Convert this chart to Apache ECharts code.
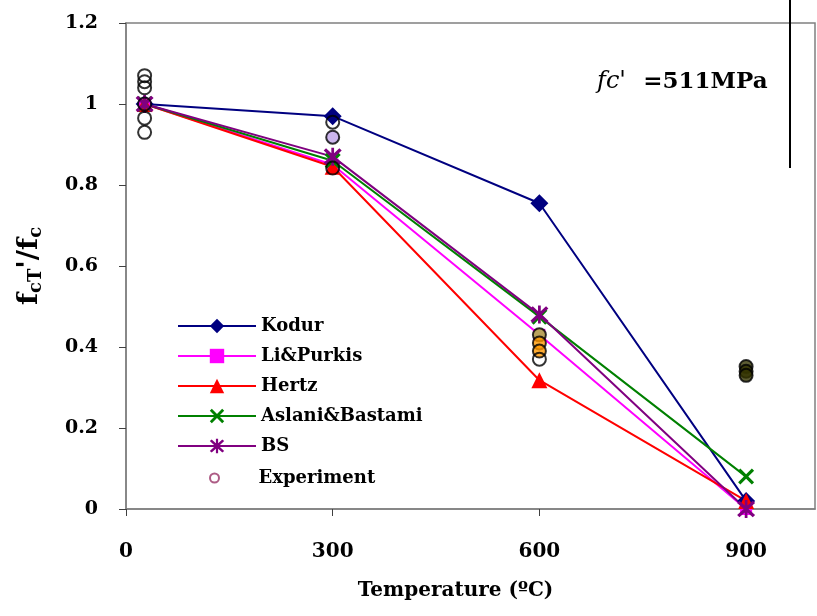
<!DOCTYPE html>
<html>
<head>
<meta charset="utf-8">
<script src="https://cdn.jsdelivr.net/npm/echarts@6/dist/echarts.min.js"></script>
<style>html,body{margin:0;padding:0;background:#fff;}#c{width:817px;height:616px;}</style>
</head>
<body>
<div id="c"></div>
<script>
// ---- data ----
const temps = [27, 300, 600, 900];
const kodur = [1.0, 0.97, 0.755, 0.02];
const liPurkis = [1.0, 0.85, 0.43, 0.0];
const hertz = [1.0, 0.845, 0.318, 0.02];
const aslani = [1.0, 0.86, 0.475, 0.08];
const bs = [1.0, 0.87, 0.48, 0.0];
const expTemp = [27, 27, 27, 27, 27, 27, 300, 300, 300, 600, 600, 600, 600, 900, 900, 900];
const expRatio = [1.07, 1.055, 1.04, 1.0, 0.965, 0.93, 0.955, 0.918, 0.842, 0.43, 0.41, 0.39, 0.37, 0.352, 0.34, 0.33];
const xTicks = [0, 300, 600, 900];
const yTicks = [0, 0.2, 0.4, 0.6, 0.8, 1, 1.2];
// styles (fill colours of experiment markers)
const expFill = ['rgba(0,0,0,0)','rgba(0,0,0,0)','rgba(0,0,0,0)','rgba(0,0,0,0)','rgba(0,0,0,0)','rgba(0,0,0,0)',
  'rgba(0,0,0,0)','#bfa3e8','rgba(0,0,0,0)','#a8cc33','#ff9900','#ff9900','rgba(0,0,0,0)','#333300','#333300','#333300'];

const pair = (xs, ys) => xs.map((x, i) => [x, ys[i]]);
const FONT = 'DejaVu Serif';
const xPath = 'path://M0,0.14 L0.14,0 L0.5,0.36 L0.86,0 L1,0.14 L0.64,0.5 L1,0.86 L0.86,1 L0.5,0.64 L0.14,1 L0,0.86 L0.36,0.5 Z';
const starPath = 'path://M0.04,0.16 L0.16,0.04 L0.5,0.38 L0.84,0.04 L0.96,0.16 L0.62,0.5 L0.96,0.84 L0.84,0.96 L0.5,0.62 L0.16,0.96 L0.04,0.84 L0.38,0.5 Z M0.43,0 L0.57,0 L0.57,1 L0.43,1 Z';

const chart = echarts.init(document.getElementById('c'), null, {renderer: 'canvas'});
function lineSeries(name, data, color, symbol, size) {
  return {
    name, type: 'line', data: pair(temps, data), color,
    symbol, symbolSize: size,
    lineStyle: {color, width: 2},
    itemStyle: {color},
    emphasis: {disabled: true}
  };
}
chart.setOption({
  animation: false,
  grid: {left: 126, right: 2, top: 23, bottom: 107, show: true, borderColor: '#808080', borderWidth: 1.5},
  xAxis: {
    type: 'value', min: 0, max: 1000, interval: 300,
    name: 'Temperature (ºC)', nameLocation: 'middle', nameGap: 72,
    nameTextStyle: {fontFamily: FONT, fontWeight: 'bold', fontSize: 20, color: '#000', padding: [0, 30, 0, 0]},
    axisLine: {lineStyle: {color: '#808080', width: 1.5}},
    axisTick: {show: true, length: 7, inside: false, lineStyle: {color: '#404040'}},
    axisLabel: {showMaxLabel: false, margin: 33, fontFamily: FONT, fontWeight: 'bold', fontSize: 20, color: '#000',
      formatter: v => xTicks.includes(v) ? String(v) : ''},
    splitLine: {show: false}
  },
  yAxis: {
    type: 'value', min: 0, max: 1.2, interval: 0.2,
    name: '{f|f}{s|cT}{f|\'/f}{s|c}', nameLocation: 'middle', nameGap: 78, nameRotate: 90,
    nameTextStyle: {
      color: '#000',
      rich: {
        f: {fontFamily: FONT, fontWeight: 'bold', fontSize: 28, lineHeight: 36, color: '#000'},
        s: {fontFamily: FONT, fontWeight: 'bold', fontSize: 18, lineHeight: 36, color: '#000', padding: [13, 0, 0, 0]}
      }
    },
    axisLine: {show: true, lineStyle: {color: '#808080', width: 1.5}},
    axisTick: {show: true, length: 7, lineStyle: {color: '#404040'}},
    axisLabel: {margin: 28, fontFamily: FONT, fontWeight: 'bold', fontSize: 19, color: '#000',
      formatter: v => { const t = yTicks.find(a => Math.abs(a - v) < 1e-9); return t === undefined ? '' : String(t); }},
    splitLine: {show: false}
  },
  legend: [{
    data: ['Kodur', 'Li&Purkis', 'Hertz', 'Aslani&Bastami', 'BS'],
    orient: 'vertical', left: 177, top: 317, padding: 0, itemWidth: 78, itemHeight: 18, itemGap: 12,
    textStyle: {fontFamily: FONT, fontWeight: 'bold', fontSize: 18, color: '#000'},
    selectedMode: false
  }, {
    data: [{name: 'Experiment', itemStyle: {color: 'rgba(0,0,0,0)', borderColor: '#993366', borderWidth: 2}}],
    orient: 'vertical', left: 209, top: 469, padding: 0, itemWidth: 78, itemHeight: 9,
    textStyle: {fontFamily: FONT, fontWeight: 'bold', fontSize: 18, color: '#000'},
    selectedMode: false
  }],
  series: [
    lineSeries('Kodur', kodur, '#000080', 'diamond', 18),
    lineSeries('Li&Purkis', liPurkis, '#ff00ff', 'rect', 12),
    lineSeries('Hertz', hertz, '#ff0000', 'triangle', 16),
    lineSeries('Aslani&Bastami', aslani, '#008000', xPath, 16),
    lineSeries('BS', bs, '#800080', starPath, 18),
    {
      name: 'Experiment', type: 'scatter', data: pair(expTemp, expRatio), z: 5,
      symbol: 'circle', symbolSize: 13,
      itemStyle: {color: p => expFill[p.dataIndex], borderColor: '#000', borderWidth: 2},
      emphasis: {disabled: true}
    }
  ],
  graphic: [
    {type: 'line', shape: {x1: 790, y1: 0, x2: 790, y2: 168}, style: {stroke: '#000', lineWidth: 2}, z: 100},
    {type: 'text', x: 597, y: 70, z: 100, style: {
      text: '{i|fc\'} {n|=511MPa}',
      rich: {
        i: {fontFamily: FONT, fontStyle: 'italic', fontSize: 24, fill: '#000'},
        n: {fontFamily: FONT, fontWeight: 'bold', fontSize: 23, fill: '#000', padding: [0, 0, 0, 14]}
      }
    }}
  ]
});
</script>
</body>
</html>
